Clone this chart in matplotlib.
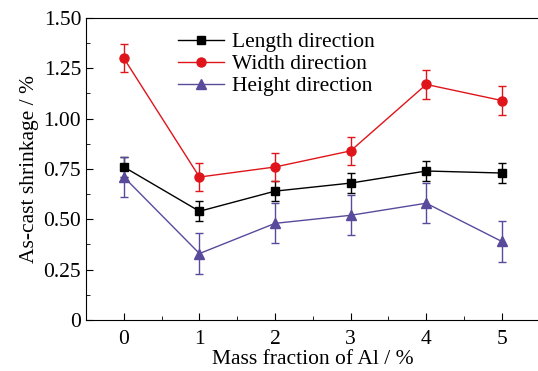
import matplotlib.pyplot as plt
from matplotlib.ticker import MultipleLocator

plt.rcParams['font.family'] = 'Liberation Serif'
plt.rcParams['font.size'] = 15.5

# data
mass_al = [0, 1, 2, 3, 4, 5]
length_dir = [0.76, 0.54, 0.64, 0.68, 0.74, 0.73]
length_err = [0.05, 0.05, 0.05, 0.05, 0.05, 0.05]
width_dir = [1.30, 0.71, 0.76, 0.84, 1.17, 1.09]
width_err = [0.07, 0.07, 0.07, 0.07, 0.07, 0.07]
height_dir = [0.71, 0.33, 0.48, 0.52, 0.58, 0.39]
height_err = [0.10, 0.10, 0.10, 0.10, 0.10, 0.10]

fig = plt.figure(figsize=(5.38, 3.71), dpi=100)
ax = fig.add_axes([0.160, 0.1375, 0.843, 0.814])

c1 = ax.errorbar(mass_al, length_dir, yerr=length_err, color='black', marker='s',
                 markersize=5.5, lw=1, capsize=3, elinewidth=1, label='Length direction')
c2 = ax.errorbar(mass_al, width_dir, yerr=width_err, color='#e0151b', marker='o',
                 markersize=6.5, lw=1, capsize=3, elinewidth=1, label='Width direction')
c3 = ax.errorbar(mass_al, height_dir, yerr=height_err, color='#5a4a9c', marker='^',
                 markersize=7.5, lw=1, capsize=3, elinewidth=1, label='Height direction')

ax.set_xlim(-0.5, 5.5)
ax.set_ylim(0, 1.5)
ax.xaxis.set_major_locator(MultipleLocator(1))
ax.xaxis.set_minor_locator(MultipleLocator(0.5))
ax.yaxis.set_minor_locator(MultipleLocator(0.125))
ax.set_yticks([0, 0.25, 0.5, 0.75, 1.0, 1.25, 1.5])
ax.set_yticklabels(['0', '0.25', '0.50', '0.75', '1.00', '1.25', '1.50'])
ax.tick_params(which='both', direction='in', top=False, right=False)
ax.tick_params(which='major', length=5)
ax.tick_params(which='minor', length=3)
ax.tick_params(axis='x', pad=7)

ax.set_xlabel('Mass fraction of Al / %', labelpad=1)
ax.set_ylabel('As-cast shrinkage / %', labelpad=3)

ax.legend(handles=[c1[0], c2[0], c3[0]],
          labels=['Length direction', 'Width direction', 'Height direction'],
          loc='upper left', bbox_to_anchor=(0.175, 0.995), frameon=False,
          handlelength=2.1, handletextpad=0.4, labelspacing=0.08, borderaxespad=0.2)

fig.savefig('out.png', dpi=100)
